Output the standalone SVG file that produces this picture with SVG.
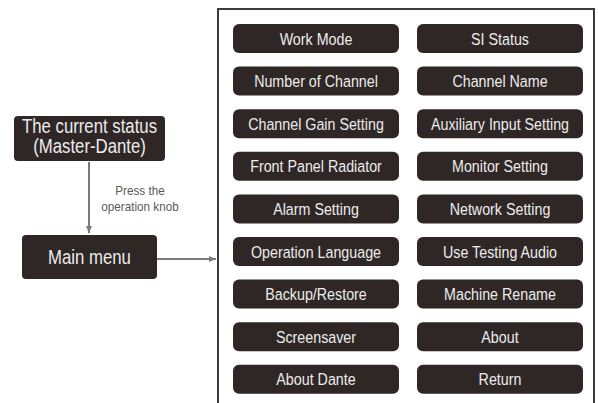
<svg xmlns="http://www.w3.org/2000/svg" width="598" height="403" viewBox="0 0 598 403">
<style>
.b{fill:#2f2725}
text{font-family:"Liberation Sans",Arial,sans-serif;text-anchor:middle}
.t{fill:#ececec;font-size:17px}
.lt{fill:#ececec;font-size:19.5px}
.c{stroke:#7a7a7a;stroke-width:2;fill:none}
.n{fill:#5a5a5a;font-size:13px}
</style>
<defs>
<marker id="ah" markerWidth="8" markerHeight="8" refX="7" refY="4" orient="auto" markerUnits="userSpaceOnUse">
<path d="M0,1 L7,4 L0,7 Z" fill="#7a7a7a"/>
</marker>
</defs>
<path d="M218,403 V9 H594 V403" fill="none" stroke="#3c3c3c" stroke-width="2"/>
<g id="connectors">
<line class="c" x1="89" y1="162" x2="89" y2="233" marker-end="url(#ah)"/>
<line class="c" x1="157" y1="259" x2="216" y2="259" marker-end="url(#ah)"/>
<text class="n" transform="translate(140,195) scale(0.9,1)">Press  the</text>
<text class="n" transform="translate(140,211) scale(0.9,1)">operation knob</text>
</g>
<g id="status"><rect class="b" x="14" y="116" width="151" height="45" rx="4"/><text class="lt" transform="translate(89.5,133) scale(0.86,1)">The current status</text><text class="lt" transform="translate(89.5,153) scale(0.86,1)">(Master-Dante)</text></g>
<g id="mainmenu"><rect class="b" x="22" y="235" width="135" height="44" rx="4"/><text class="lt" transform="translate(89.5,264) scale(0.86,1)">Main menu</text></g>
<g id="workmode"><rect class="b" x="233" y="24" width="166" height="29" rx="6"/><text class="t" transform="translate(316,44.5) scale(0.84,1)">Work Mode</text></g>
<g id="sistatus"><rect class="b" x="417" y="24" width="166" height="29" rx="6"/><text class="t" transform="translate(500,44.5) scale(0.84,1)">SI Status</text></g>
<g id="numchannel"><rect class="b" x="233" y="66.6" width="166" height="29" rx="6"/><text class="t" transform="translate(316,87.1) scale(0.84,1)">Number of Channel</text></g>
<g id="channame"><rect class="b" x="417" y="66.6" width="166" height="29" rx="6"/><text class="t" transform="translate(500,87.1) scale(0.84,1)">Channel Name</text></g>
<g id="gain"><rect class="b" x="233" y="109.2" width="166" height="29" rx="6"/><text class="t" transform="translate(316,129.7) scale(0.84,1)">Channel Gain Setting</text></g>
<g id="aux"><rect class="b" x="417" y="109.2" width="166" height="29" rx="6"/><text class="t" transform="translate(500,129.7) scale(0.84,1)">Auxiliary Input Setting</text></g>
<g id="radiator"><rect class="b" x="233" y="151.8" width="166" height="29" rx="6"/><text class="t" transform="translate(316,172.3) scale(0.84,1)">Front Panel Radiator</text></g>
<g id="monitor"><rect class="b" x="417" y="151.8" width="166" height="29" rx="6"/><text class="t" transform="translate(500,172.3) scale(0.84,1)">Monitor Setting</text></g>
<g id="alarm"><rect class="b" x="233" y="194.4" width="166" height="29" rx="6"/><text class="t" transform="translate(316,214.9) scale(0.84,1)">Alarm Setting</text></g>
<g id="network"><rect class="b" x="417" y="194.4" width="166" height="29" rx="6"/><text class="t" transform="translate(500,214.9) scale(0.84,1)">Network Setting</text></g>
<g id="language"><rect class="b" x="233" y="237" width="166" height="29" rx="6"/><text class="t" transform="translate(316,257.5) scale(0.84,1)">Operation Language</text></g>
<g id="testaudio"><rect class="b" x="417" y="237" width="166" height="29" rx="6"/><text class="t" transform="translate(500,257.5) scale(0.84,1)">Use Testing Audio</text></g>
<g id="backup"><rect class="b" x="233" y="279.6" width="166" height="29" rx="6"/><text class="t" transform="translate(316,300.1) scale(0.84,1)">Backup/Restore</text></g>
<g id="rename"><rect class="b" x="417" y="279.6" width="166" height="29" rx="6"/><text class="t" transform="translate(500,300.1) scale(0.84,1)">Machine Rename</text></g>
<g id="screensaver"><rect class="b" x="233" y="322.2" width="166" height="29" rx="6"/><text class="t" transform="translate(316,342.7) scale(0.84,1)">Screensaver</text></g>
<g id="about"><rect class="b" x="417" y="322.2" width="166" height="29" rx="6"/><text class="t" transform="translate(500,342.7) scale(0.84,1)">About</text></g>
<g id="aboutdante"><rect class="b" x="233" y="364.8" width="166" height="29" rx="6"/><text class="t" transform="translate(316,385.3) scale(0.84,1)">About Dante</text></g>
<g id="return"><rect class="b" x="417" y="364.8" width="166" height="29" rx="6"/><text class="t" transform="translate(500,385.3) scale(0.84,1)">Return</text></g>
</svg>
